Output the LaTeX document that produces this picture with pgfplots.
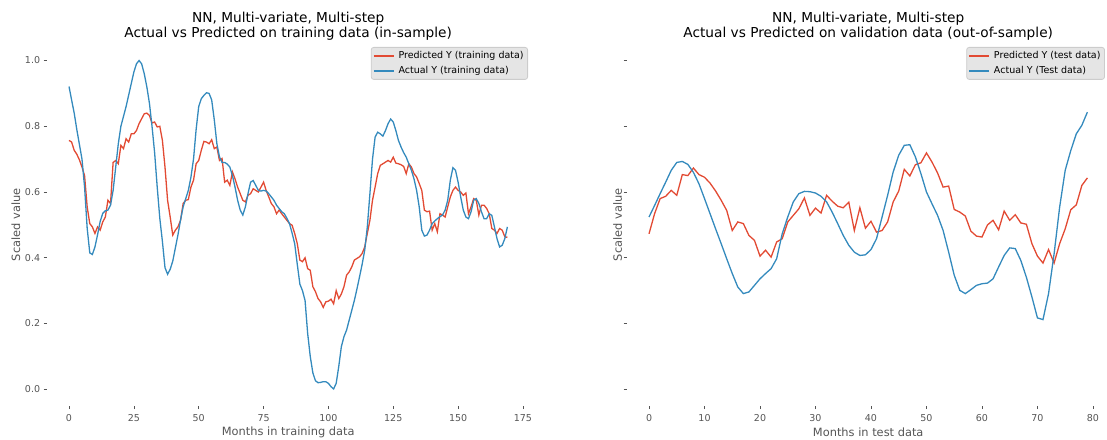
\documentclass[border=0pt]{standalone}
\usepackage{fontspec}
\setmainfont{DejaVu Sans}
\usepackage{pgfplots}
\pgfplotsset{compat=1.18}
\definecolor{predred}{HTML}{E24A33}
\definecolor{actblue}{HTML}{348ABD}
\definecolor{c555}{HTML}{555555}
\definecolor{legfill}{HTML}{E5E5E5}
\definecolor{legedge}{HTML}{CCCCCC}
\pgfplotsset{
  mystyle/.style={
    scale only axis, width=482.2pt, height=361.6pt,
    ymin=-0.05, ymax=1.05,
    ytick={0,0.2,0.4,0.6,0.8,1.0},
    axis line style={draw=none},
    tick align=outside, major tick length=3.5pt,
    xtick pos=left, ytick pos=left,
    every tick/.style={color=c555, line width=0.6pt},
    tick label style={font=\fontsize{9.5}{11}\selectfont, text=c555},
    xticklabel style={yshift=-1.8pt},
    /pgf/number format/assume math mode=true,
    yticklabel style={/pgf/number format/.cd, fixed, fixed zerofill, precision=1},
    every axis x label/.style={at={(rel axis cs:0.5,0)}, anchor=center, yshift=-26.5pt, font=\fontsize{11.4}{13}\selectfont, text=c555},
    title style={align=center, font=\fontsize{13.7}{15}\selectfont, anchor=south, at={(rel axis cs:0.5,1)}, yshift=-2.8pt, inner sep=0pt},
    legend cell align=left,
    legend image code/.code={\draw[##1] (0pt,0pt) -- (20pt,0pt);},
    legend style={at={(rel axis cs:1,1)}, anchor=north east, fill=legfill, draw=legedge, line width=0.8pt,
      rounded corners=2.5pt, font=\fontsize{9.5}{11}\selectfont, text=black,
      inner xsep=2pt, inner ysep=1pt, row sep=0pt, column sep=2pt,
      nodes={inner xsep=2pt, inner ysep=2.5pt, text height=7.5pt, text depth=2.5pt}},
  }
}
\pgfplotstableread{
x y
0 .757
1 .752
2 .727
3 .715
4 .698
5 .676
6 .650
7 .555
8 .504
9 .494
10 .474
11 .494
12 .484
13 .509
14 .524
15 .575
16 .565
17 .690
18 .696
19 .686
20 .742
21 .732
22 .762
23 .752
24 .777
25 .777
26 .787
27 .808
28 .823
29 .838
30 .840
31 .833
32 .810
33 .813
34 .798
35 .800
36 .757
37 .676
38 .575
39 .524
40 .469
41 .484
42 .494
43 .514
44 .565
45 .575
46 .577
47 .615
48 .636
49 .686
50 .696
51 .727
52 .754
53 .752
54 .747
55 .759
56 .732
57 .737
58 .696
59 .702
60 .630
61 .636
62 .620
63 .661
64 .640
65 .615
66 .595
67 .575
68 .570
69 .590
70 .595
71 .610
72 .605
73 .600
74 .615
75 .630
76 .605
77 .585
78 .565
79 .555
80 .534
81 .545
82 .534
83 .524
84 .514
85 .504
86 .499
87 .474
88 .443
89 .393
90 .388
91 .400
92 .367
93 .362
94 .312
95 .297
96 .276
97 .266
98 .249
99 .266
100 .268
101 .274
102 .260
103 .300
104 .276
105 .290
106 .312
107 .347
108 .357
109 .372
110 .393
111 .398
112 .403
113 .413
114 .433
115 .474
116 .514
117 .575
118 .615
119 .656
120 .681
121 .686
122 .691
123 .696
124 .691
125 .706
126 .688
127 .686
128 .683
129 .678
130 .656
131 .686
132 .676
133 .656
134 .646
135 .626
136 .605
137 .545
138 .540
139 .542
140 .484
141 .504
142 .479
143 .534
144 .530
145 .524
146 .555
147 .585
148 .605
149 .615
150 .605
151 .600
152 .590
153 .597
154 .534
155 .555
156 .580
157 .575
158 .530
159 .560
160 .560
161 .550
162 .534
163 .489
164 .484
165 .474
166 .489
167 .484
168 .464
169 .462
}\trainpred
\pgfplotstableread{
x y
0 .921
1 .88
2 .84
3 .79
4 .745
5 .70
6 .615
7 .49
8 .415
9 .41
10 .433
11 .47
12 .51
13 .535
14 .543
15 .545
16 .56
17 .605
18 .676
19 .747
20 .80
21 .83
22 .86
23 .895
24 .93
25 .965
26 .99
27 1.0
28 .99
29 .96
30 .92
31 .87
32 .80
33 .72
34 .615
35 .52
36 .45
37 .37
38 .35
39 .365
40 .39
41 .43
42 .47
43 .515
44 .555
45 .58
46 .605
47 .645
48 .70
49 .79
50 .86
51 .884
52 .894
53 .902
54 .90
55 .88
56 .82
57 .747
58 .707
59 .69
60 .69
61 .685
62 .676
63 .65
64 .615
65 .575
66 .545
67 .53
68 .555
69 .595
70 .63
71 .635
72 .62
73 .605
74 .603
75 .605
76 .603
77 .595
78 .585
79 .575
80 .56
81 .55
82 .54
83 .534
84 .52
85 .504
86 .475
87 .443
88 .38
89 .32
90 .30
91 .27
92 .17
93 .10
94 .05
95 .026
96 .02
97 .021
98 .023
99 .023
100 .018
101 .008
102 .001
103 .018
104 .07
105 .13
106 .16
107 .18
108 .21
109 .24
110 .27
111 .305
112 .342
113 .38
114 .423
115 .494
116 .595
117 .70
118 .767
119 .782
120 .777
121 .77
122 .787
123 .808
124 .822
125 .813
126 .787
127 .757
128 .737
129 .72
130 .706
131 .686
132 .666
133 .64
134 .605
135 .555
136 .484
137 .466
138 .469
139 .484
140 .504
141 .512
142 .519
143 .525
144 .53
145 .545
146 .575
147 .636
148 .674
149 .666
150 .63
151 .585
152 .545
153 .524
154 .519
155 .54
156 .575
157 .58
158 .565
159 .54
160 .519
161 .519
162 .534
163 .529
164 .494
165 .458
166 .433
167 .438
168 .458
169 .494
}\trainact
\pgfplotstableread{
x y
0 .473
1 .534
2 .580
3 .587
4 .605
5 .590
6 .653
7 .650
8 .673
9 .653
10 .645
11 .627
12 .603
13 .575
14 .544
15 .483
16 .509
17 .504
18 .468
19 .453
20 .405
21 .423
22 .402
23 .448
24 .458
25 .509
26 .529
27 .549
28 .582
29 .529
30 .551
31 .536
32 .590
33 .572
34 .557
35 .552
36 .569
37 .483
38 .552
39 .490
40 .511
41 .478
42 .483
43 .509
44 .570
45 .603
46 .669
47 .649
48 .683
49 .689
50 .719
51 .691
52 .658
53 .615
54 .618
55 .547
56 .539
57 .527
58 .481
59 .466
60 .463
61 .500
62 .514
63 .485
64 .542
65 .514
66 .531
67 .506
68 .502
69 .443
70 .405
71 .384
72 .425
73 .384
74 .443
75 .488
76 .546
77 .561
78 .620
79 .643
}\testpred
\pgfplotstableread{
x y
0 .524
1 .559
2 .595
3 .630
4 .666
5 .690
6 .693
7 .684
8 .660
9 .625
10 .580
11 .534
12 .488
13 .443
14 .397
15 .352
16 .311
17 .291
18 .296
19 .316
20 .336
21 .352
22 .367
23 .397
24 .473
25 .524
26 .570
27 .595
28 .602
29 .601
30 .597
31 .587
32 .570
33 .539
34 .504
35 .468
36 .438
37 .417
38 .407
39 .409
40 .425
41 .458
42 .524
43 .590
44 .661
45 .712
46 .742
47 .744
48 .707
49 .656
50 .600
51 .564
52 .529
53 .483
54 .417
55 .347
56 .301
57 .291
58 .303
59 .316
60 .321
61 .323
62 .336
63 .372
64 .407
65 .430
66 .428
67 .392
68 .341
69 .281
70 .217
71 .212
72 .291
73 .412
74 .554
75 .666
76 .726
77 .777
78 .803
79 .843
}\testact
\begin{document}
\begin{tikzpicture}[x=1pt,y=1pt]
\useasboundingbox (0,0) rectangle (1107,439);
\begin{axis}[mystyle, at={(47.1pt,33.3pt)}, anchor=south west,
  xmin=-8.45, xmax=177.45, xtick={0,25,...,175},
  title={NN, Multi-variate, Multi-step\\Actual vs Predicted on training data (in-sample)},
  xlabel={Months in training data},
  ylabel={Scaled value},
  every axis y label/.style={at={(rel axis cs:-0.0645,0.5)}, rotate=90, anchor=center, font=\fontsize{11.4}{13}\selectfont, text=c555},
  legend style={xshift=-1.3pt, yshift=-2.9pt},
]
\addplot[color=predred, line width=1.3pt, mark=none] table[x=x,y=y] {\trainpred};
\addlegendentry{Predicted Y (training data)}
\addplot[color=actblue, line width=1.3pt, mark=none] table[x=x,y=y] {\trainact};
\addlegendentry{Actual Y (training data)}
\end{axis}
\begin{axis}[mystyle, at={(627.1pt,33.3pt)}, anchor=south west,
  xmin=-3.95, xmax=82.95, xtick={0,10,...,80},
  yticklabels={},
  title={NN, Multi-variate, Multi-step\\Actual vs Predicted on validation data (out-of-sample)},
  xlabel={Months in test data},
  ylabel={Scaled value},
  every axis y label/.style={at={(rel axis cs:-0.0199,0.5)}, rotate=90, anchor=center, font=\fontsize{11.4}{13}\selectfont, text=c555},
  legend style={xshift=-4.4pt, yshift=-2.9pt},
]
\addplot[color=predred, line width=1.3pt, mark=none] table[x=x,y=y] {\testpred};
\addlegendentry{Predicted Y (test data)}
\addplot[color=actblue, line width=1.3pt, mark=none] table[x=x,y=y] {\testact};
\addlegendentry{Actual Y (Test data)}
\end{axis}
\end{tikzpicture}
\end{document}
